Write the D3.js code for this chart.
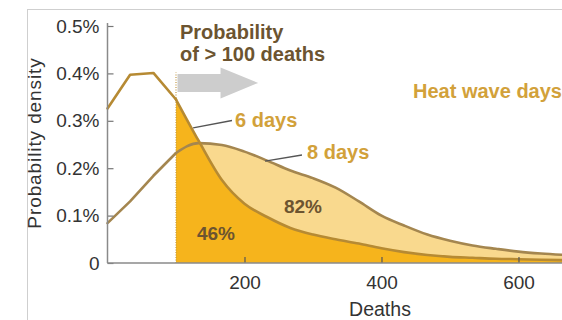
<!DOCTYPE html>
<html>
<head>
<meta charset="utf-8">
<script src="https://cdn.jsdelivr.net/npm/d3@7/dist/d3.min.js"></script>
<style>
  html, body { margin: 0; padding: 0; background: #fff; }
  svg { display: block; font-family: "Liberation Sans", Arial, sans-serif; }
</style>
</head>
<body>
<svg id="chart" width="562" height="320"></svg>
<script>
// Deaths (x) sampled every ~33 deaths
const deaths = [0, 33, 67, 100, 133, 167, 200, 233, 267, 300, 333, 367, 400, 433, 467, 500, 533, 567, 600, 633, 667];
// Probability density, in % per death
const sixDays   = [0.326, 0.397, 0.401, 0.345, 0.258, 0.175, 0.125, 0.097, 0.074, 0.060, 0.050, 0.041, 0.031, 0.023, 0.017, 0.013, 0.011, 0.009, 0.008, 0.007, 0.006];
const eightDays = [0.084, 0.130, 0.184, 0.232, 0.253, 0.249, 0.235, 0.216, 0.195, 0.179, 0.159, 0.130, 0.100, 0.079, 0.060, 0.047, 0.037, 0.030, 0.024, 0.020, 0.017];
const threshold = 100;
const yTicks = [0, 0.1, 0.2, 0.3, 0.4, 0.5];
const xTicks = [200, 400, 600];
const shareSix = "46%";
const shareEight = "82%";

const svg = d3.select("#chart");
const x = d3.scaleLinear().domain([0, 665]).range([107.5, 563]);
const y = d3.scaleLinear().domain([0, 0.5]).range([263, 26]);

const six = deaths.map((d, i) => ({ d, v: sixDays[i] }));
const eight = deaths.map((d, i) => ({ d, v: eightDays[i] }));
const upTo = (s, t) => s.filter(p => p.d <= t);
const from = (s, t) => s.filter(p => p.d >= t);

// panel frame
svg.append("line").attr("x1", 27).attr("x2", 562).attr("y1", 9.5).attr("y2", 9.5)
  .attr("stroke", "#cfcfcf").attr("stroke-width", 1);
svg.append("line").attr("x1", 27.5).attr("x2", 27.5).attr("y1", 9).attr("y2", 320)
  .attr("stroke", "#cfcfcf").attr("stroke-width", 1);

const smooth = d3.curveMonotoneX;
const area = d3.area().curve(smooth).x(p => x(p.d)).y0(y(0)).y1(p => y(p.v));
const lineSmooth = d3.line().curve(smooth).x(p => x(p.d)).y(p => y(p.v));
const lineStraight = d3.line().curve(d3.curveLinear).x(p => x(p.d)).y(p => y(p.v));

// tail areas beyond the threshold
svg.append("path").datum(from(eight, threshold)).attr("d", area).attr("fill", "#f9d98e");
svg.append("path").datum(from(six, threshold)).attr("d", area).attr("fill", "#f6b41c");

// threshold marker
svg.append("line")
  .attr("x1", x(threshold)).attr("x2", x(threshold))
  .attr("y1", y(0)).attr("y2", y(0.402))
  .attr("stroke", "#c39a45").attr("stroke-width", 1.2).attr("stroke-dasharray", "1,1.5");

// density curves: straight segments up to the threshold, smooth tail after it
function drawCurve(series, color) {
  svg.append("path").datum(upTo(series, threshold)).attr("d", lineStraight)
    .attr("fill", "none").attr("stroke", color).attr("stroke-width", 2.6)
    .attr("stroke-linejoin", "round").attr("stroke-linecap", "round");
  svg.append("path").datum(from(series, threshold)).attr("d", lineSmooth)
    .attr("fill", "none").attr("stroke", color).attr("stroke-width", 2.6)
    .attr("stroke-linejoin", "round").attr("stroke-linecap", "round");
}
drawCurve(eight, "#a4864f");
drawCurve(six, "#b68a33");

// axes
const yAxis = d3.axisLeft(y).tickValues(yTicks).tickSizeInner(-6).tickSizeOuter(0).tickPadding(8)
  .tickFormat(v => v === 0 ? "0" : d3.format(".1f")(v) + "%");
const gy = svg.append("g").attr("transform", `translate(${x(0)},0)`).call(yAxis);
gy.select(".domain").remove();
gy.append("line").attr("x1", 0).attr("x2", 0).attr("y1", y(0)).attr("y2", y(0.5) - 3)
  .attr("stroke", "#8a8a8a").attr("stroke-width", 1.5);
gy.selectAll(".tick line").attr("stroke", "#777").attr("stroke-width", 1.2);
gy.selectAll("text").attr("font-size", 19).attr("fill", "#333").attr("font-family", "Liberation Sans, Arial, sans-serif");

const xAxis = d3.axisBottom(x).tickValues(xTicks).tickSizeInner(-6).tickSizeOuter(0).tickPadding(12.5);
const gx = svg.append("g").attr("transform", `translate(0,${y(0)})`).call(xAxis);
gx.select(".domain").remove();
gx.append("line").attr("x1", x(0)).attr("x2", 562).attr("y1", 0).attr("y2", 0)
  .attr("stroke", "#8a8a8a").attr("stroke-width", 1.5);
gx.selectAll(".tick line").attr("stroke", "#555").attr("stroke-width", 1.2);
gx.selectAll("text").attr("font-size", 19).attr("fill", "#333").attr("font-family", "Liberation Sans, Arial, sans-serif");

// axis titles
svg.append("text").attr("x", 380).attr("y", 316).attr("text-anchor", "middle")
  .attr("font-size", 19.5).attr("fill", "#333").text("Deaths");
svg.append("text").attr("transform", "translate(41,143) rotate(-90)").attr("text-anchor", "middle")
  .attr("font-size", 19).attr("letter-spacing", 0.9).attr("fill", "#333").text("Probability density");

// arrow pointing to the tail
const ax0 = x(threshold) + 1.5, axNeck = x(165), axTip = x(220), ayc = y(0.38);
svg.append("path")
  .attr("d", `M${ax0},${ayc - 9}L${axNeck},${ayc - 9}L${axNeck},${ayc - 15.5}L${axTip},${ayc}L${axNeck},${ayc + 15.5}L${axNeck},${ayc + 9}L${ax0},${ayc + 9}Z`)
  .attr("fill", "#cdcdcd");

// annotations
const brown = "#6c5430", gold = "#d2a13a";
const title = svg.append("text").attr("font-size", 20).attr("font-weight", "bold").attr("fill", brown);
title.append("tspan").attr("x", x(threshold) + 4).attr("y", 39).text("Probability");
title.append("tspan").attr("x", x(threshold) + 4).attr("y", 61).text("of > 100 deaths");

svg.append("text").attr("x", 562).attr("y", 98).attr("text-anchor", "end")
  .attr("font-size", 20).attr("font-weight", "bold").attr("fill", gold).text("Heat wave days");

svg.append("line").attr("x1", x(125)).attr("y1", y(0.285)).attr("x2", 232).attr("y2", 120.5)
  .attr("stroke", "#555").attr("stroke-width", 1.3);
svg.append("text").attr("x", 235).attr("y", 127).attr("font-size", 20).attr("font-weight", "bold")
  .attr("fill", gold).text("6 days");

svg.append("line").attr("x1", x(230)).attr("y1", y(0.217) + 1).attr("x2", 302).attr("y2", 155)
  .attr("stroke", "#555").attr("stroke-width", 1.3);
svg.append("text").attr("x", 307).attr("y", 158.5).attr("font-size", 20).attr("font-weight", "bold")
  .attr("fill", gold).text("8 days");

svg.append("text").attr("x", 303).attr("y", 213).attr("text-anchor", "middle")
  .attr("font-size", 19).attr("font-weight", "bold").attr("fill", brown).text(shareEight);
svg.append("text").attr("x", 216).attr("y", 239.5).attr("text-anchor", "middle")
  .attr("font-size", 19).attr("font-weight", "bold").attr("fill", brown).text(shareSix);
</script>
</body>
</html>
